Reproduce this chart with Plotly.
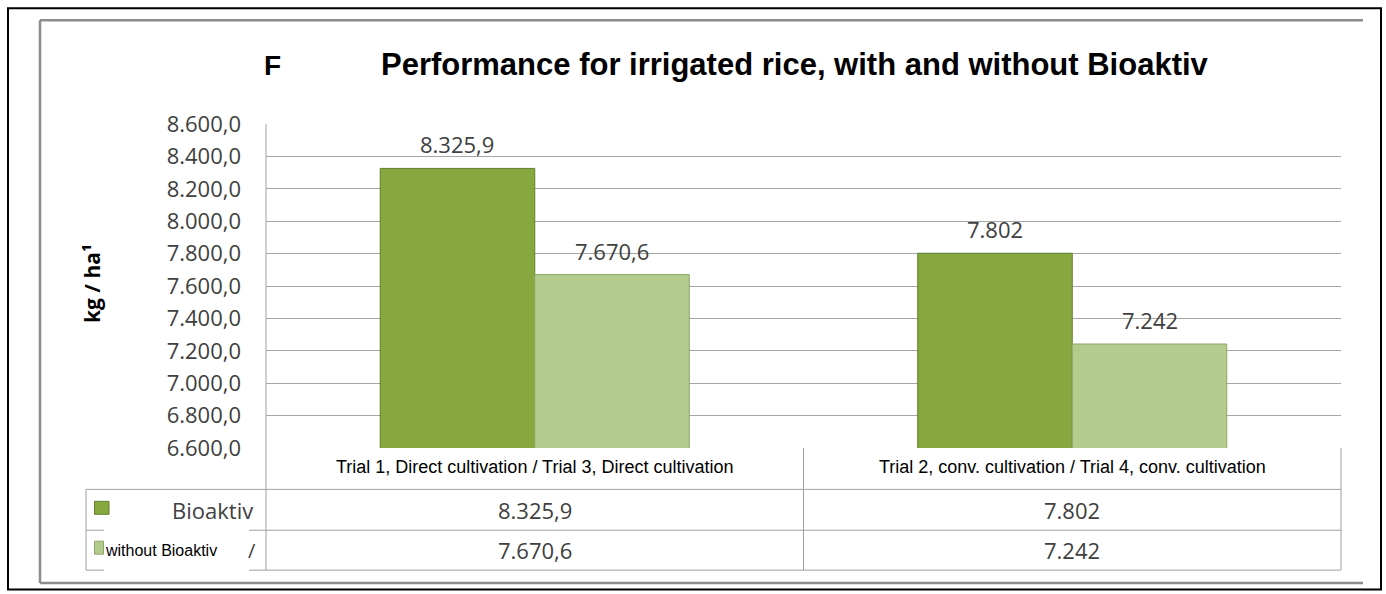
import plotly.graph_objects as go

# ---------------- data ----------------
categories = [
    "Trial 1, Direct cultivation / Trial 3, Direct cultivation",
    "Trial 2, conv. cultivation / Trial 4, conv. cultivation",
]
series_names = ["Bioaktiv", "without Bioaktiv"]
bioaktiv = [8325.9, 7802]
without_bioaktiv = [7670.6, 7242]
y_tick_values = [6600, 6800, 7000, 7200, 7400, 7600, 7800, 8000, 8200, 8400, 8600]
title_text = "Performance for irrigated rice, with and without Bioaktiv"
y_title = "kg / ha¹"

# ---------------- style ----------------
W, H = 1386, 594
L, R, T, B = 266, 45, 123.5, 145.5
PW, PH = W - L - R, H - T - B
BARGAP = 0.425
colors = ["#86A83E", "#B3CB8C"]
line_colors = ["#62802A", "#8EA76B"]
TXT = "#404040"
GRID = "#A6A6A6"
NUM_FONT = "Open Sans"


def px_x(x):
    return (x - L) / PW


def px_y(y):
    return (T + PH - y) / PH


def fmt(v):
    if float(v).is_integer():
        s = f"{int(v):,}".replace(",", ".")
    else:
        s = f"{v:,.1f}".replace(",", "X").replace(".", ",").replace("X", ".")
    return s


series = [bioaktiv, without_bioaktiv]

fig = go.Figure()
for name, vals, c, lc in zip(series_names, series, colors, line_colors):
    fig.add_trace(go.Bar(
        x=categories, y=vals, name=name,
        marker=dict(color=c, line=dict(color=lc, width=1)),
        hoverinfo="x+y+name",
    ))

annotations = []
# bar data labels
cat_px = PW / len(categories)
bar_px = cat_px * (1 - BARGAP) / len(series)
for i, vals in enumerate(series):
    off = (i - (len(series) - 1) / 2) * bar_px
    for j, v in enumerate(vals):
        annotations.append(dict(
            x=categories[j], y=v, xref="x", yref="y", xshift=off, yshift=24,
            text=fmt(v), showarrow=False, yanchor="middle",
            font=dict(family=NUM_FONT, size=22, color=TXT),
        ))

# category labels in the table header row
for c in categories:
    annotations.append(dict(
        x=c, y=px_y(468), xref="x", yref="paper", text=c, showarrow=False,
        yanchor="middle", font=dict(family="Liberation Sans", size=18, color="#000000"),
    ))

# table values
row_y = [px_y(510.5), px_y(551)]
for i, vals in enumerate(series):
    for j, v in enumerate(vals):
        annotations.append(dict(
            x=categories[j], y=row_y[i], xref="x", yref="paper", text=fmt(v),
            showarrow=False, yanchor="middle",
            font=dict(family=NUM_FONT, size=22, color=TXT),
        ))

# row labels
annotations.append(dict(
    x=px_x(255), y=row_y[0], xref="paper", yref="paper", text=series_names[0],
    showarrow=False, xanchor="right", yanchor="middle",
    font=dict(family=NUM_FONT, size=22, color=TXT),
))
annotations.append(dict(
    x=px_x(103), y=row_y[1], xref="paper", yref="paper", text=series_names[1],
    showarrow=False, xanchor="left", yanchor="middle",
    font=dict(family="Liberation Sans", size=16, color="#000000"),
))
annotations.append(dict(
    x=px_x(252), y=row_y[1], xref="paper", yref="paper", text="/",
    showarrow=False, xanchor="center", yanchor="middle",
    font=dict(family=NUM_FONT, size=20, color=TXT),
))

# title (and clipped leftover glyph)
annotations.append(dict(
    x=px_x(794.5), y=px_y(64), xref="paper", yref="paper", text=f"<b>{title_text}</b>",
    showarrow=False, xanchor="center", yanchor="middle",
    font=dict(family="Liberation Sans", size=31, color="#000000"),
))
annotations.append(dict(
    x=px_x(262), y=px_y(65), xref="paper", yref="paper", text="<b>F</b>",
    showarrow=False, xanchor="left", yanchor="middle",
    font=dict(family="Liberation Sans", size=28, color="#000000"),
))
# y-axis title
annotations.append(dict(
    x=px_x(92), y=px_y(284), xref="paper", yref="paper", text=f"<b>{y_title}</b>",
    showarrow=False, textangle=-90, xanchor="center", yanchor="middle",
    font=dict(family=NUM_FONT, size=21, color="#000000"),
))

TL = dict(color="#A0A0A0", width=1)
shapes = []


def hline(y, x0, x1, line=TL):
    shapes.append(dict(type="line", xref="paper", yref="paper",
                       x0=px_x(x0), x1=px_x(x1), y0=px_y(y), y1=px_y(y), line=line))


def vline(x, y0, y1, line=TL):
    shapes.append(dict(type="line", xref="paper", yref="paper",
                       x0=px_x(x), x1=px_x(x), y0=px_y(y0), y1=px_y(y1), line=line))


# outer black frame
shapes.append(dict(type="rect", xref="paper", yref="paper",
                   x0=px_x(8), x1=px_x(1381), y0=px_y(590.5), y1=px_y(7.5),
                   line=dict(color="#000000", width=2)))
# inner gray frame (top, left, bottom)
GF = dict(color="#8C8C8C", width=2.5)
hline(19.5, 40, 1363, GF)
vline(40, 19.5, 584, GF)
hline(584, 40, 1363, GF)

# y axis line + table grid
vline(266, T, 571)
vline(803.5, T + PH, 571)
vline(1341, T + PH, 571)
hline(490, 86, 1341)
hline(531, 86, 104)
hline(531, 249, 1341)
hline(571, 86, 104)
hline(571, 249, 1341)
vline(86, 490, 571)

# legend swatches
shapes.append(dict(type="rect", xref="paper", yref="paper",
                   x0=px_x(94.5), x1=px_x(109), y0=px_y(515), y1=px_y(502),
                   fillcolor=colors[0], line=dict(color=line_colors[0], width=1)))
shapes.append(dict(type="rect", xref="paper", yref="paper",
                   x0=px_x(94.5), x1=px_x(103.5), y0=px_y(555), y1=px_y(542),
                   fillcolor=colors[1], line=dict(color=line_colors[1], width=1)))

fig.update_layout(
    width=W, height=H,
    margin=dict(l=L, r=R, t=T, b=B, autoexpand=False),
    paper_bgcolor="white", plot_bgcolor="white",
    separators=",.",
    barmode="group", bargap=BARGAP, bargroupgap=0,
    showlegend=False,
    xaxis=dict(type="category", showticklabels=False, showgrid=False,
               showline=False, zeroline=False, ticks=""),
    yaxis=dict(range=[6600, 8600], tickvals=y_tick_values, tickformat=",.1f",
               showgrid=True, gridcolor=GRID, gridwidth=1, zeroline=False,
               showline=False, ticks="", ticklabelstandoff=24,
               tickfont=dict(family=NUM_FONT, size=22, color=TXT)),
    annotations=annotations,
    shapes=shapes,
)

fig.write_html(
    "out.html",
    config={"displayModeBar": False},
    post_script="document.body.style.margin='0px';document.body.style.overflow='hidden';",
)
